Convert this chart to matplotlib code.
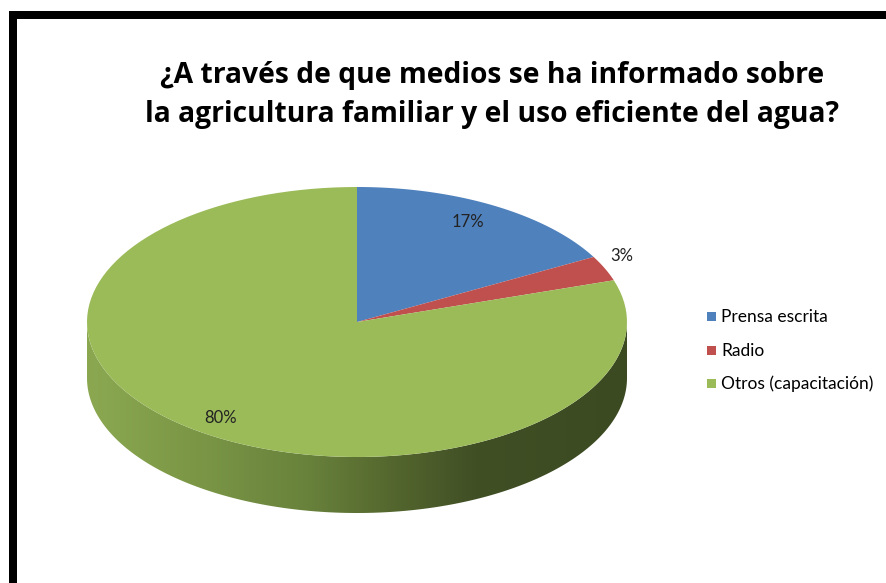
import numpy as np
import matplotlib.pyplot as plt
from matplotlib.patches import Polygon, Rectangle
from matplotlib.colors import LinearSegmentedColormap

# datos
categorias = ["Prensa escrita", "Radio", "Otros (capacitación)"]
porcentajes = [17, 3, 80]
colores = ["#4F81BD", "#C0504D", "#9BBB59"]
etiquetas = [f"{p}%" for p in porcentajes]

titulo = ["¿A través de que medios se ha informado sobre",
          "la agricultura familiar y el uso eficiente del agua?"]

# geometria del pastel 3D (pixeles)
cx, cy = 357, 322
rx, ry = 270, 135
prof = 56
pos_etiquetas = [(468, 222), (622, 256), (221, 418)]

plt.rcParams['font.family'] = ['Lato', 'DejaVu Sans']

fig = plt.figure(figsize=(8.87, 5.83), dpi=100)
ax = fig.add_axes([0, 0, 1, 1])
ax.set_xlim(0, 887)
ax.set_ylim(583, 0)
ax.axis('off')


def punto(t, dy=0):
    t = np.radians(t)
    return np.column_stack([cx + rx * np.cos(t), cy - ry * np.sin(t) + dy])


# lado (cara frontal) con degradado
t = np.linspace(180, 360, 200)
arriba = punto(t)
abajo = punto(t[::-1], prof)
lado = Polygon(np.vstack([arriba, abajo]), closed=True, facecolor='none', edgecolor='none')
ax.add_patch(lado)
cmap = LinearSegmentedColormap.from_list('lado', [
    (0.0, '#8BA851'), (0.2, '#7B9746'), (0.4, '#69833C'),
    (0.55, '#56692F'), (0.72, '#414F25'), (1.0, '#3C4A22')])
grad = np.linspace(0, 1, 256).reshape(1, -1)
img = ax.imshow(grad, cmap=cmap, extent=[cx - rx, cx + rx, cy + ry + prof, cy - ry - 5],
                aspect='auto', zorder=1)
img.set_clip_path(lado)

# cara superior
inicio = 90.0
for val, col in zip(porcentajes, colores):
    fin = inicio - val * 3.6
    arco = punto(np.linspace(inicio, fin, 120))
    pts = np.vstack([[cx, cy], arco])
    ax.add_patch(Polygon(pts, closed=True, facecolor=col, edgecolor='none', zorder=2))
    inicio = fin

for (x, y), txt in zip(pos_etiquetas, etiquetas):
    ax.text(x, y, txt, ha='center', va='center', fontsize=12, color='#222222', zorder=3)

# titulo
for yy, linea in zip([83, 122], titulo):
    ax.text(492, yy, linea, ha='center', va='baseline', fontsize=20.3, fontweight='bold',
            family=['Open Sans', 'DejaVu Sans'], color='black')

# leyenda
ley_y = [317, 351, 384]
for yy, col, cat in zip(ley_y, colores, categorias):
    ax.add_patch(Rectangle((707, yy - 5), 9, 9, facecolor=col, edgecolor='none'))
    ax.text(721, yy, cat, ha='left', va='center', fontsize=12.5, color='black')

# marco
ax.add_patch(Rectangle((9, 11), 887 - 9, 8, facecolor='black', edgecolor='none'))
ax.add_patch(Rectangle((9, 11), 8, 583 - 11, facecolor='black', edgecolor='none'))

fig.savefig('out.png', dpi=100)
